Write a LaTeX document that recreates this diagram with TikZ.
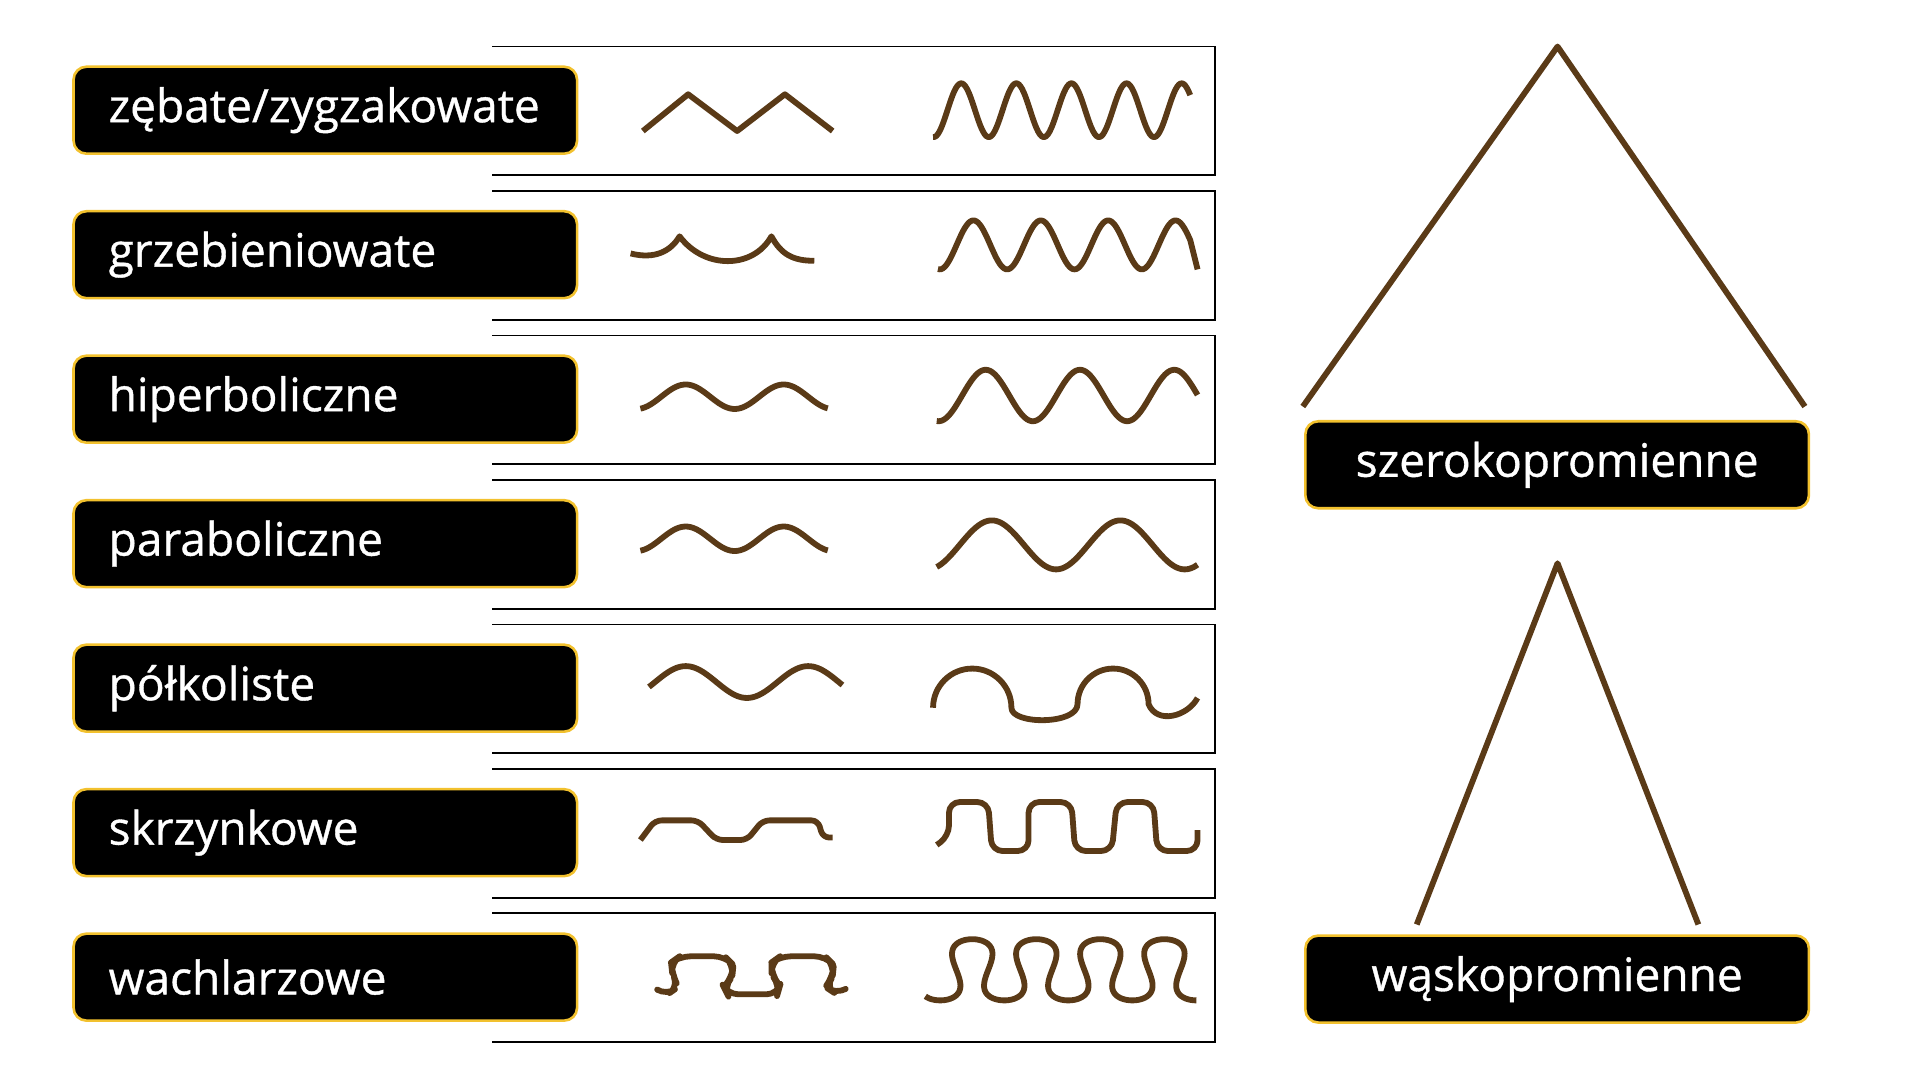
\documentclass[tikz,border=0pt]{standalone}
\usepackage{fontspec}
\setmainfont{Open Sans}
\newfontfamily\capfont{Open Sans}[FakeBold=0.8]
\usetikzlibrary{positioning}
\definecolor{fold}{HTML}{5A3A17}
\definecolor{rim}{HTML}{F2C12E}
\tikzset{
  label/.style={rectangle, rounded corners=3pt, fill=black, draw=rim, line width=0.6pt,
    minimum width=4.11cm, minimum height=0.71cm},
  caption/.style={text=white, inner sep=0pt, font=\capfont\fontsize{10.7}{13}\selectfont},
  wave/.style={draw=fold, line width=1.35pt, line join=round},
  frame/.style={draw=black, line width=0.45pt},
}
\begin{document}
\begin{tikzpicture}[x=0.01cm, y=-0.01cm]
  \useasboundingbox (0,0) rectangle (1568,882);

  % row frames and labels
  \foreach \name/\txt [count=\i from 0] in {zeb/{zębate/zygzakowate}, grz/grzebieniowate,
      hip/hiperboliczne, par/paraboliczne, pol/półkoliste, skr/skrzynkowe, wach/wachlarzowe} {
    \draw [frame] (402,38+118*\i) -- (992,38+118*\i) -- (992,143+118*\i) -- (402,143+118*\i);
    \node (\name) [label, anchor=west] at (59,90+118*\i) {};
    \node [caption, anchor=west] at (88,90+118*\i) {\txt};
  }

  % zebate
  \draw [wave] (525,107) -- (562,77) -- (602,107) -- (641,77) -- (680,107);
  \draw [wave] plot [domain=762:972, samples=160, smooth] (\x,{90-22*cos(8*(\x-785))});
  % grzebieniowate
  \draw [wave] (515,207) .. controls (535,212) and (548,205) .. (555,193)
    .. controls (575,220) and (615,220) .. (630,193) .. controls (638,208) and (648,213) .. (665,213);
  \draw [wave] plot [domain=766:972, samples=160, smooth] (\x,{200-20*cos(6.545*(\x-795))}) -- (978,220);
  % hiperboliczne
  \draw [wave] plot [domain=523:676, samples=80, smooth] (\x,{324-10*cos(4.5*(\x-560))});
  \draw [wave] plot [domain=765:978, samples=160, smooth] (\x,{323-21*cos(4.675*(\x-805))});
  % paraboliczne
  \draw [wave] plot [domain=523:676, samples=80, smooth] (\x,{440-10*cos(4.5*(\x-560))});
  \draw [wave] plot [domain=765:978, samples=160, smooth] (\x,{445-20*cos(3.4286*(\x-810))});
  % polkoliste
  \draw [wave] plot [domain=530:688, samples=80, smooth] (\x,{557-13*cos(3.6*(\x-560))});
  \draw [wave] (762,578) arc (180:360:32) .. controls (826,592) and (880,592) .. (880,575)
    arc (180:360:29) .. controls (945,592) and (970,585) .. (978,570);
  % skrzynkowe
  \draw [wave, rounded corners=1.5pt] (523,686) -- (535,670) -- (570,670) -- (585,686) -- (610,686)
    -- (623,670) -- (668,670) -- (672,684) -- (680,684);
  \draw [wave, rounded corners=2.5pt] (765,690) -- (775,683) -- (775,655) -- (807,655) -- (810,695)
    -- (840,695) -- (840,655) -- (875,655) -- (878,695) -- (908,695) -- (912,655) -- (942,655)
    -- (945,695) -- (978,695) -- (978,678);
  % wachlarzowe
  \draw [wave, rounded corners=2.5pt] (538,809) -- (544,813) -- (554,806) -- (549,795) -- (548,786)
    -- (555,781) -- (592,781) -- (599,788) -- (598,798) -- (591,806) -- (594,812) -- (635,812)
    -- (637,805) -- (630,796) -- (630,786) -- (637,781) -- (674,781) -- (681,788) -- (680,798)
    -- (674,806) -- (683,812) -- (690,808);
  \draw [wave] plot [domain=150:1620, samples=300, smooth]
    ({794+0.1453*(\x-360)+9*sin(2*\x)},{792-25*cos(\x)});

  % right side
  \node (wide) [label, anchor=north west] at (1065,343) {};
  \node [caption] at (wide) {szerokopromienne};
  \node (narrow) [label, anchor=north west] at (1065,763) {};
  \node [caption] at (narrow) {wąskopromienne};
  \coordinate (wtop) at (1272,38);
  \coordinate (ntop) at (1272,460);
  \draw [wave] (1064,332) -- (wtop) -- (1474,332);
  \draw [wave] (1157,755) -- (ntop) -- (1387,755);
\end{tikzpicture}
\end{document}
